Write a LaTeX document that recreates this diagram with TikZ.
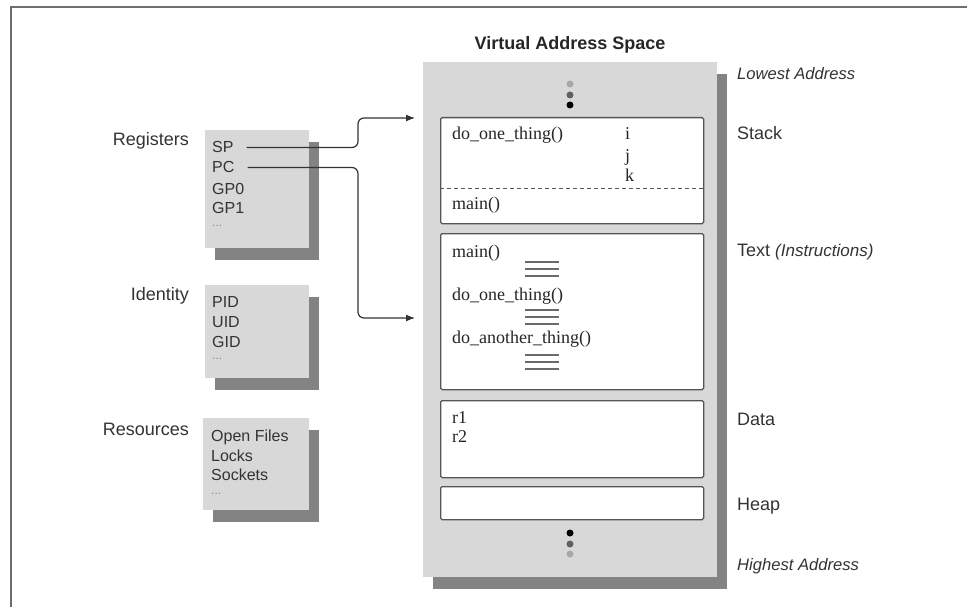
\documentclass[tikz,border=0pt]{standalone}
\usepackage{fontspec}
\setmainfont{Liberation Serif}
\setsansfont{Liberation Sans}
\usetikzlibrary{shadows,arrows.meta}
\definecolor{panelgray}{HTML}{D8D8D8}
\definecolor{shadowgray}{HTML}{838383}
\definecolor{boxline}{HTML}{555555}
\definecolor{framecol}{HTML}{6E6E6E}
\definecolor{rulecol}{HTML}{6A6A6A}
\definecolor{dotlight}{HTML}{A8A8A8}
\definecolor{dotmid}{HTML}{606060}
\begin{document}
\begin{tikzpicture}[x=1pt,y=-1pt,
  panel/.style={fill=panelgray, draw=none, inner sep=0pt, anchor=north west,
    drop shadow={shadow xshift=10pt, shadow yshift=-12pt, fill=shadowgray, opacity=1}},
  seg/.style={fill=white, draw=boxline, line width=1.3pt, rounded corners=1.5pt,
    inner sep=0pt, anchor=north west, minimum width=263pt},
  serift/.style={font=\fontsize{18}{20}\selectfont, inner sep=0pt, anchor=base west, text=black!85},
  boxt/.style={font=\sffamily\fontsize{16}{18}\selectfont, inner sep=0pt, anchor=base west, text=black!80},
  ell/.style={font=\sffamily\fontsize{12}{12}\selectfont, inner sep=0pt, anchor=base west, text=black!45},
  leftlab/.style={font=\sffamily\fontsize{18}{20}\selectfont, inner sep=0pt, anchor=base east, text=black!80},
  rightlab/.style={font=\sffamily\fontsize{18}{20}\selectfont, inner sep=0pt, anchor=base west, text=black!80},
  italab/.style={font=\sffamily\itshape\fontsize{16.6}{18}\selectfont, inner sep=0pt, anchor=base west, text=black!80},
  dotc/.style={circle, inner sep=0pt, minimum size=7pt, draw=none},
  rule/.style={draw=rulecol, line width=1.2pt},
  conn/.style={draw=black!80, line width=1.2pt, rounded corners=6pt, -{Latex[length=9pt,width=7pt]}}
]
\useasboundingbox (0,0) rectangle (967,607);
% frame
\draw[framecol, line width=2pt] (11,607) -- (11,7) -- (967,7);

% title
\node[font=\sffamily\bfseries\fontsize{18}{20}\selectfont, inner sep=0pt, anchor=base, text=black!85] (title) at (570,50) {Virtual Address Space};

% virtual address space panel
\node[panel, minimum width=294pt, minimum height=515pt] (vas) at (423,62) {};

\node[dotc, fill=dotlight] (dt1) at (570,84) {};
\node[dotc, fill=dotmid] (dt2) at (570,95) {};
\node[dotc, fill=black] (dt3) at (570,105) {};

\node[seg, minimum height=106pt] (stack) at (440,117) {};
\draw[boxline, line width=1pt, dash pattern=on 4pt off 3pt] ([yshift=-18pt]stack.west) -- ([yshift=-18pt]stack.east);
\node[serift] (s1) at (452,140) {do\_one\_thing()};
\node[serift] (si) at (625,140) {i};
\node[serift] (sj) at (625,161) {j};
\node[serift] (sk) at (625,182) {k};
\node[serift] (s2) at (452,210) {main()};

\node[seg, minimum height=156pt] (textseg) at (440,233) {};
\node[serift] (t1) at (452,257) {main()};
\node[serift] (t2) at (452,300) {do\_one\_thing()};
\node[serift] (t3) at (452,343) {do\_another\_thing()};
\foreach \yy in {262,269,276,310,317,324,355,362,369}
  \draw[rule] (525,\yy) -- (559,\yy);

\node[seg, minimum height=77pt] (dataseg) at (440,400) {};
\node[serift] (d1) at (452,423) {r1};
\node[serift] (d2) at (452,442) {r2};

\node[seg, minimum height=33pt] (heapseg) at (440,486) {};

\node[dotc, fill=black] (db1) at (570,533) {};
\node[dotc, fill=dotmid] (db2) at (570,544) {};
\node[dotc, fill=dotlight] (db3) at (570,554) {};

% right labels
\node[italab] (low) at (737,80) {Lowest Address};
\node[rightlab] (lstack) at (737,140) {Stack};
\node[rightlab] (ltext) at (737,256) {Text {\itshape\fontsize{17}{18}\selectfont (Instructions)}};
\node[rightlab] (ldata) at (737,425) {Data};
\node[rightlab] (lheap) at (737,510) {Heap};
\node[italab] (high) at (737,570) {Highest Address};

% left panels
\node[panel, minimum width=104pt, minimum height=118pt] (regs) at (205,130) {};
\node[panel, minimum width=104pt, minimum height=93pt] (ident) at (205,285) {};
\node[panel, minimum width=106pt, minimum height=92pt] (res) at (203,418) {};

\node[leftlab] (lregs) at (189,146) {Registers};
\node[leftlab] (lident) at (189,300) {Identity};
\node[leftlab] (lres) at (189,435) {Resources};

\node[boxt] (SP) at (212,153) {SP};
\node[boxt] (PC) at (212,173) {PC};
\node[boxt] (GP0) at (212,194) {GP0};
\node[boxt] (GP1) at (212,214) {GP1};
\node[ell] (rdots) at (212,226) {...};

\node[boxt] (PID) at (212,307) {PID};
\node[boxt] (UID) at (212,327) {UID};
\node[boxt] (GID) at (212,347) {GID};
\node[ell] (idots) at (212,359) {...};

\node[boxt] (OF) at (211,441) {Open Files};
\node[boxt] (LK) at (211,461) {Locks};
\node[boxt] (SK) at (211,480) {Sockets};
\node[ell] (sdots) at (211,494) {...};

% connectors
\coordinate (bend) at (358,0);
\coordinate (spT) at (415,118);
\coordinate (pcT) at (415,318);
\draw[conn] ([xshift=13pt]SP.east) -- (SP.east -| bend) -- (spT -| bend) -- (spT);
\draw[conn] ([xshift=13pt]PC.east) -- (PC.east -| bend) -- (pcT -| bend) -- (pcT);
\end{tikzpicture}
\end{document}
